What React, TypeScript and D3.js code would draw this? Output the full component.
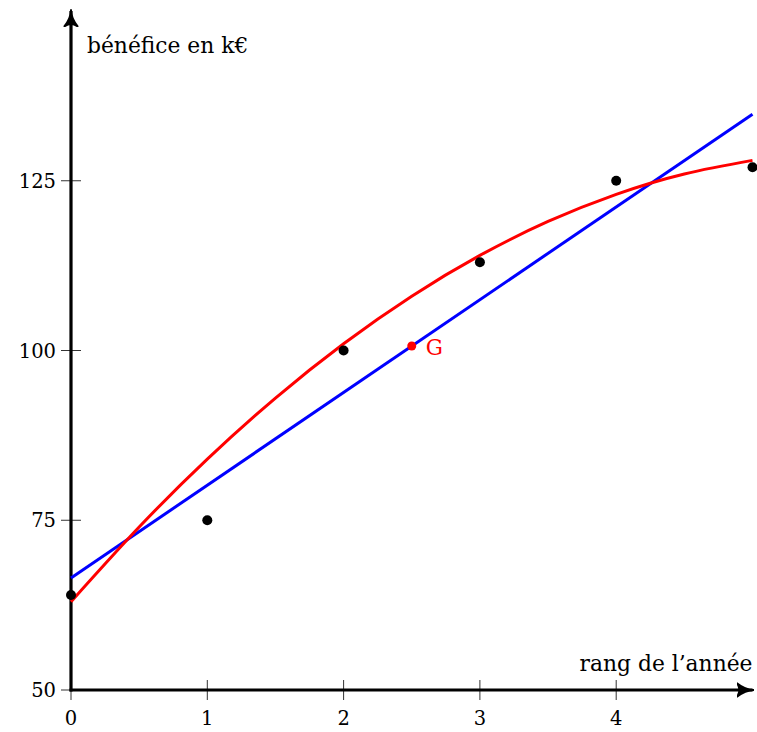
import React, { useEffect, useRef } from 'react';
import * as d3 from 'd3';

// data
const years = [0, 1, 2, 3, 4, 5];
const profits = [64, 75, 100, 113, 125, 127];

// regression line end points
const lineX = [0, 5];
const lineY = [66.5, 134.8];

// red model curve, read every half year
const curveX = [0, 0.5, 1, 1.5, 2, 2.5, 3, 3.5, 4, 4.5, 5];
const curveY = [63, 74, 84, 93, 101, 108, 114, 119, 123, 126, 128];

// mean point G
const gPoint = { x: 2.5, y: 100.67 };

const xTicks = [0, 1, 2, 3, 4];
const yTicks = [50, 75, 100, 125];

const App = () => {
  const ref = useRef<SVGSVGElement>(null);

  useEffect(() => {
    document.body.style.margin = '0';
    const width = 757;
    const height = 732;
    const font = "'DejaVu Serif', serif";

    const svg = d3.select(ref.current).attr('width', width).attr('height', height);
    svg.selectAll('*').remove();

    const x = d3.scaleLinear().domain([0, 5]).range([71, 752.5]);
    const y = d3.scaleLinear().domain([50, 150]).range([690, 11]);

    // arrow head
    svg.append('defs')
      .append('marker')
      .attr('id', 'arrow')
      .attr('viewBox', '0 0 10 10')
      .attr('refX', 9)
      .attr('refY', 5)
      .attr('markerWidth', 5.5)
      .attr('markerHeight', 5.5)
      .attr('markerUnits', 'strokeWidth')
      .attr('orient', 'auto')
      .append('path')
      .attr('d', 'M0,1 Q5,5 10,5 Q5,5 0,9 Q3,5 0,1 Z')
      .attr('fill', 'black')
      .attr('stroke', 'black')
      .attr('stroke-width', 1);

    // ticks
    svg.selectAll('.xtick')
      .data(xTicks)
      .join('line')
      .attr('class', 'xtick')
      .attr('x1', d => x(d))
      .attr('x2', d => x(d))
      .attr('y1', y(50) - 10)
      .attr('y2', y(50) + 10)
      .attr('stroke', '#333')
      .attr('stroke-width', 1);

    svg.selectAll('.ytick')
      .data(yTicks)
      .join('line')
      .attr('class', 'ytick')
      .attr('x1', x(0) - 10)
      .attr('x2', x(0) + 10)
      .attr('y1', d => y(d))
      .attr('y2', d => y(d))
      .attr('stroke', '#333')
      .attr('stroke-width', 1);

    svg.selectAll('.xlabel')
      .data(xTicks)
      .join('text')
      .attr('class', 'xlabel')
      .attr('x', d => x(d))
      .attr('y', y(50) + 35)
      .attr('text-anchor', 'middle')
      .attr('font-family', font)
      .attr('font-size', 19.5)
      .text(d => d);

    svg.selectAll('.ylabel')
      .data(yTicks)
      .join('text')
      .attr('class', 'ylabel')
      .attr('x', x(0) - 15)
      .attr('y', d => y(d) + 7)
      .attr('text-anchor', 'end')
      .attr('font-family', font)
      .attr('font-size', 19.5)
      .text(d => d);

    // axes
    svg.append('line')
      .attr('x1', x(0) - 1.5)
      .attr('x2', x(5))
      .attr('y1', y(50))
      .attr('y2', y(50))
      .attr('stroke', 'black')
      .attr('stroke-width', 3.2)
      .attr('marker-end', 'url(#arrow)');

    svg.append('line')
      .attr('x1', x(0))
      .attr('x2', x(0))
      .attr('y1', y(50) + 1.5)
      .attr('y2', y(150))
      .attr('stroke', 'black')
      .attr('stroke-width', 3.2)
      .attr('marker-end', 'url(#arrow)');

    svg.append('text')
      .attr('x', x(0) + 16)
      .attr('y', 53)
      .attr('font-family', font)
      .attr('font-size', 21.8)
      .text('bénéfice en k€');

    svg.append('text')
      .attr('x', x(5))
      .attr('y', 671)
      .attr('text-anchor', 'end')
      .attr('font-family', font)
      .attr('font-size', 21.8)
      .text('rang de l’année');

    // blue regression line
    const line = d3.line<number>()
      .x((d, i) => x(lineX[i]))
      .y(d => y(d));
    svg.append('path')
      .attr('d', line(lineY))
      .attr('fill', 'none')
      .attr('stroke', '#0000ff')
      .attr('stroke-width', 3);

    // red curve
    const curve = d3.line<number>()
      .x((d, i) => x(curveX[i]))
      .y(d => y(d))
      .curve(d3.curveNatural);
    svg.append('path')
      .attr('d', curve(curveY))
      .attr('fill', 'none')
      .attr('stroke', '#ff0000')
      .attr('stroke-width', 3);

    // points
    svg.selectAll('.pt')
      .data(profits)
      .join('circle')
      .attr('class', 'pt')
      .attr('cx', (d, i) => x(years[i]))
      .attr('cy', d => y(d))
      .attr('r', 5)
      .attr('fill', 'black');

    svg.append('circle')
      .attr('cx', x(gPoint.x))
      .attr('cy', y(gPoint.y))
      .attr('r', 4.5)
      .attr('fill', '#ff0000');

    svg.append('text')
      .attr('x', x(gPoint.x) + 14)
      .attr('y', y(gPoint.y) + 9)
      .attr('fill', '#ff0000')
      .attr('font-family', font)
      .attr('font-size', 21.5)
      .text('G');
  }, []);

  return (
    <div>
      <svg ref={ref} style={{ display: 'block' }}></svg>
    </div>
  );
};

export default App;
